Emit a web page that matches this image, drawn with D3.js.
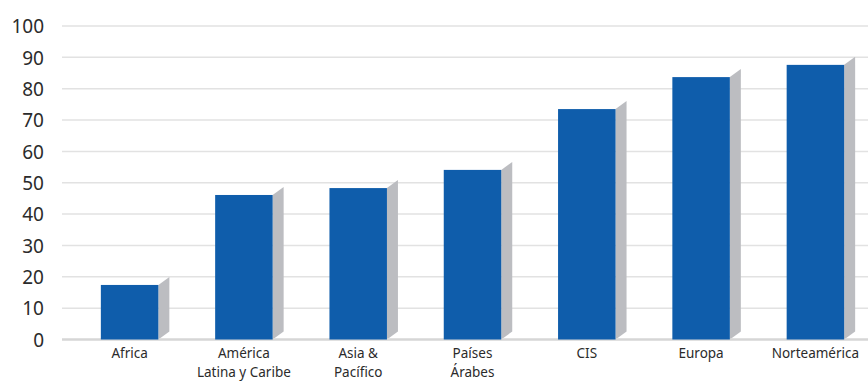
<!DOCTYPE html>
<html><head><meta charset="utf-8">
<script src="https://cdn.jsdelivr.net/npm/d3@7"></script>
<style>body{margin:0;background:#fff}svg{display:block}</style>
</head><body><svg id="c" width="868" height="381"></svg>
<script>
const categories = [["Africa"],["América","Latina y Caribe"],["Asia &","Pacífico"],["Países","Árabes"],["CIS"],["Europa"],["Norteamérica"]];
const values = [17.4, 46.1, 48.3, 54.1, 73.5, 83.7, 87.6];
const ticks = [0,10,20,30,40,50,60,70,80,90,100];

const svg = d3.select("#c");
const W = 868, H = 381;
const y = d3.scaleLinear().domain([0,100]).range([339.5,26]);
const x = d3.scaleBand().domain(categories.map((d,i)=>i)).range([43.7,901.3]).paddingInner(0.497).paddingOuter(0.5);
const dx = 11, dy = 8;
const font = "'Noto Sans', Lato, sans-serif";

// gridlines
svg.append("g").selectAll("line").data(ticks.filter(t=>t>0)).join("line")
  .attr("x1",62).attr("x2",W).attr("y1",d=>y(d)).attr("y2",d=>y(d))
  .attr("stroke","#e2e2e2").attr("stroke-width",1.5);

// y tick labels
const yAxis = d3.axisLeft(y).tickValues(ticks).tickSize(0).tickPadding(0);
const ga = svg.append("g").attr("transform","translate(44,0)").call(yAxis);
ga.select(".domain").remove();
ga.selectAll("text").attr("font-family",font).attr("font-size",19).attr("fill","#2b2b2b").attr("dy","0.36em");

// side faces
svg.append("g").selectAll("path").data(values).join("path")
  .attr("d",(d,i)=>{const x1=x(i)+x.bandwidth(), yt=y(d), yb=y(0);
    return `M${x1},${yt}L${x1+dx},${yt-dy}L${x1+dx},${yb-dy}L${x1},${yb}Z`;})
  .attr("fill","#bcbdc1");

// baseline
svg.append("line").attr("x1",62).attr("x2",W).attr("y1",y(0)).attr("y2",y(0))
  .attr("stroke","#d6d6d6").attr("stroke-width",2.5);

// bars
svg.append("g").selectAll("rect").data(values).join("rect")
  .attr("x",(d,i)=>x(i)).attr("width",x.bandwidth())
  .attr("y",d=>y(d)).attr("height",d=>y(0)-y(d))
  .attr("fill","#0f5dab");

// category labels (one text per line)
const lg = svg.append("g");
categories.forEach((lines,i)=>{
  lines.forEach((t,j)=>{
    lg.append("text")
      .attr("x",x(i)+x.bandwidth()/2).attr("y",358+j*18.6)
      .attr("text-anchor","middle").attr("font-family",font)
      .attr("font-size",13.5).attr("fill","#2b2b2b").text(t);
  });
});
</script></body></html>
